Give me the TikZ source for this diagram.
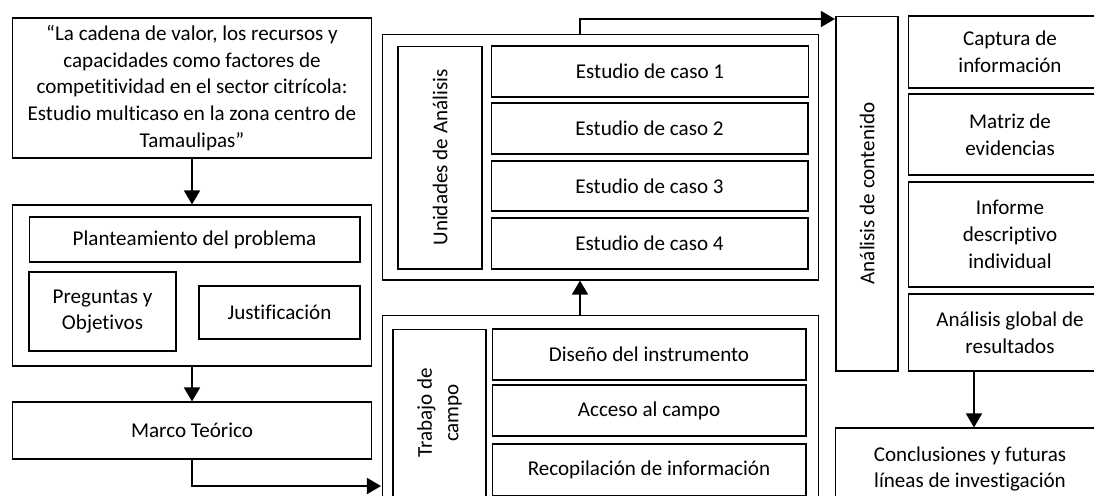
\documentclass[tikz,border=0pt]{standalone}
\usepackage{fontspec}
\setmainfont{Carlito}[Ligatures=NoCommon]
\usepackage{tikz}
\usetikzlibrary{arrows.meta}

\tikzset{
  blk/.style={draw, line width=0.6pt, inner sep=0pt, align=center,
    font=\fontsize{12pt}{15.2pt}\selectfont},
  arr/.style={line width=1.3pt, -{Triangle[length=8pt,width=9pt]}}
}

\begin{document}
\begin{tikzpicture}[x=0.02cm,y=-0.02cm]
\useasboundingbox (0,0) rectangle (1094,495);
\clip (0,0) rectangle (1094,495);

% left column
\node[blk, minimum width=7.2cm, minimum height=2.8cm] (titulo) at (192,88)
  {“La cadena de valor, los recursos y\\capacidades como factores de\\competitividad en el sector citrícola:\\Estudio multicaso en la zona centro de\\Tamaulipas”};
\node[blk, minimum width=7.2cm, minimum height=3.22cm] (probl) at (192,285.5) {};
\node[blk, minimum width=6.62cm, minimum height=0.9cm] (plant) at (194.5,239.5) {Planteamiento del problema};
\node[blk, minimum width=2.94cm, minimum height=1.58cm] (preg) at (102.5,311.5) {Preguntas y\\Objetivos};
\node[blk, minimum width=3.22cm, minimum height=1.06cm] (just) at (279.5,312.5) {Justificación};
\node[blk, minimum width=7.2cm, minimum height=1.14cm] (marco) at (192,430.5) {Marco Teórico};

% unidades de analisis
\node[blk, minimum width=8.74cm, minimum height=4.92cm] (unid) at (600.5,157) {};
\node[blk, rotate=90, minimum width=4.46cm, minimum height=1.68cm] (unidlbl) at (440,157.5) {Unidades de Análisis};
\node[blk, minimum width=6.34cm, minimum height=1.02cm] (caso1) at (650,71.5) {Estudio de caso 1};
\node[blk, minimum width=6.34cm, minimum height=1.02cm] (caso2) at (649.5,128.5) {Estudio de caso 2};
\node[blk, minimum width=6.34cm, minimum height=1.0cm] (caso3) at (649.5,186) {Estudio de caso 3};
\node[blk, minimum width=6.34cm, minimum height=1.02cm] (caso4) at (649.5,243.5) {Estudio de caso 4};

% trabajo de campo
\node[blk, minimum width=8.74cm, minimum height=3.9cm] (trabajo) at (600.5,412.5) {};
\node[blk, rotate=90, minimum width=3.36cm, minimum height=1.86cm] (trablbl) at (439.5,413) {Trabajo de\\campo};
\node[blk, minimum width=6.28cm, minimum height=1.02cm] (diseno) at (649,354.5) {Diseño del instrumento};
\node[blk, minimum width=6.28cm, minimum height=1.02cm] (acceso) at (649,410.5) {Acceso al campo};
\node[blk, minimum width=6.28cm, minimum height=1.04cm] (recop) at (649,470) {Recopilación de información};

% analisis de contenido
\node[blk, rotate=90, minimum width=7.1cm, minimum height=1.24cm] (anal) at (867,193.5) {Análisis de contenido};
\node[blk, minimum width=4.08cm, minimum height=1.44cm] (captura) at (1010,52) {Captura de\\información};
\node[blk, minimum width=4.08cm, minimum height=1.62cm] (matriz) at (1010,134.5) {Matriz de\\evidencias};
\node[blk, minimum width=4.08cm, minimum height=2.1cm] (informe) at (1010,234.5) {Informe\\descriptivo\\individual};
\node[blk, minimum width=4.08cm, minimum height=1.54cm] (global) at (1010,332.5) {Análisis global de\\resultados};
\node[blk, minimum width=5.4cm, minimum height=1.64cm] (concl) at (970,469) {Conclusiones y futuras\\líneas de investigación};

% connectors
\coordinate (e1) at (381,486);
\coordinate (u1) at (580,0);
\coordinate (a1) at (835,19);
\coordinate (c1) at (974,0);
\draw[arr] (titulo) -- (probl);
\draw[arr] (probl) -- (marco);
\draw[arr] (marco.south) |- (e1);
\draw[arr] (trabajo.north -| u1) -- (unid.south -| u1);
\draw[arr] (unid.north -| u1) |- (a1);
\draw[arr] (global.south -| c1) -- (concl.north -| c1);
\end{tikzpicture}
\end{document}
